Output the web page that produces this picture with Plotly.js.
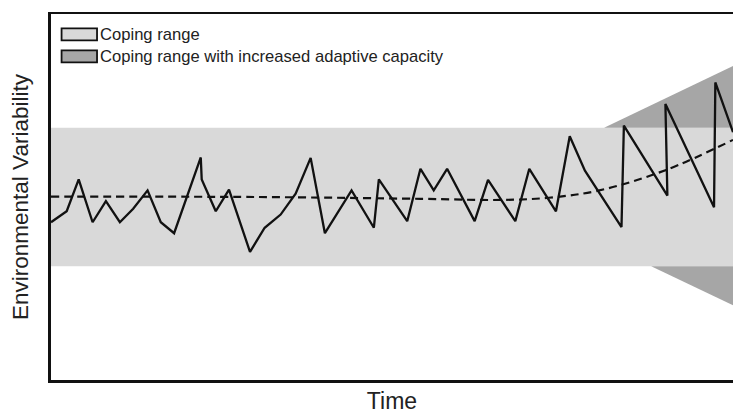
<!DOCTYPE html>
<html>
<head>
<meta charset="utf-8">
<script src="https://cdn.plot.ly/plotly-3.0.1.min.js"></script>
<style>
  html, body { margin: 0; padding: 0; background: #ffffff; }
  #chart { width: 733px; height: 414px; }
</style>
</head>
<body>
<div id="chart"></div>
<script>
// ---- data (time and variability in arbitrary units 0-100) ----
const timeSteps = [0, 2.3, 4.06, 6.1, 8.05, 10.1, 12.05, 14.16, 16.1, 18.05, 21.96, 22.1, 24.16, 26.1, 29.18, 31.33, 33.67, 35.87, 38.07, 40.16, 44.07, 47.34, 48.07, 52.23, 54.17, 56.12, 58.08, 62.12, 64.08, 68.08, 70.13, 74.04, 76.06, 78.29, 83.65, 84.0, 90.38, 90.09, 97.22, 97.41, 100];
const variability = [43.1, 46.1, 54.8, 43.1, 48.9, 43.1, 46.8, 51.8, 43.1, 40.1, 60.8, 54.8, 46.1, 52.0, 35.0, 41.6, 45.2, 50.9, 60.7, 40.1, 51.8, 41.6, 54.8, 43.4, 57.7, 51.8, 57.7, 43.4, 54.7, 43.4, 57.7, 46.1, 66.6, 57.2, 41.8, 69.5, 50.4, 75.4, 47.2, 81.3, 67.7];

const trendTime = [0, 30, 54.2, 66, 73, 80.4, 90.2, 100];
const trendLevel = [50.1, 50.0, 49.5, 49.2, 49.8, 51.8, 57.4, 65.6];

const copingRangeTime = [0, 100, 100, 0];
const copingRangeLevel = [31.1, 31.1, 68.9, 68.9];

const adaptiveUpperTime = [81.1, 100, 100];
const adaptiveUpperLevel = [68.9, 85.8, 68.9];
const adaptiveLowerTime = [88.0, 100, 100];
const adaptiveLowerLevel = [31.1, 20.4, 31.1];

const legendLabels = ["Coping range", "Coping range with increased adaptive capacity"];
const axisTitles = { x: "Time", y: "Environmental Variability" };

// ---- styles ----
const lightGrey = "#d9d9d9";
const darkGrey = "#a6a6a6";
const ink = "#111111";
const textColor = "#222222";
const fontFamily = "Liberation Sans, Arial, sans-serif";

const traces = [
  {
    x: copingRangeTime, y: copingRangeLevel, type: "scatter", mode: "lines",
    fill: "toself", fillcolor: lightGrey, line: { width: 0, color: lightGrey },
    hoverinfo: "skip", showlegend: false
  },
  {
    x: adaptiveUpperTime, y: adaptiveUpperLevel, type: "scatter", mode: "lines",
    fill: "toself", fillcolor: darkGrey, line: { width: 0, color: darkGrey },
    hoverinfo: "skip", showlegend: false
  },
  {
    x: adaptiveLowerTime, y: adaptiveLowerLevel, type: "scatter", mode: "lines",
    fill: "toself", fillcolor: darkGrey, line: { width: 0, color: darkGrey },
    hoverinfo: "skip", showlegend: false
  },
  {
    x: trendTime, y: trendLevel, type: "scatter", mode: "lines",
    line: { color: ink, width: 2.2, dash: "8px,5px", shape: "spline", smoothing: 1 },
    showlegend: false
  },
  {
    x: timeSteps, y: variability, type: "scatter", mode: "lines",
    line: { color: ink, width: 2.3 },
    showlegend: false
  }
];

// legend drawn as swatches + labels in the top-left corner of the plot
const swatchShapes = legendLabels.map((lab, i) => ({
  type: "rect", xref: "paper", yref: "paper",
  x0: 0.0155, x1: 0.0675,
  y0: 1 - (14.5 + 22 * i + 12) / 367, y1: 1 - (14.5 + 22 * i) / 367,
  fillcolor: i === 0 ? lightGrey : darkGrey,
  line: { color: ink, width: 1.8 }
}));
const legendTexts = legendLabels.map((lab, i) => ({
  text: lab, xref: "paper", yref: "paper",
  x: 0.0695, y: 1 - (20.5 + 22 * i) / 367,
  xanchor: "left", yanchor: "middle", showarrow: false,
  font: { family: fontFamily, size: 16.6, color: textColor }
}));

const layout = {
  width: 733, height: 414,
  margin: { l: 51, r: 0, t: 14, b: 34, pad: 0 },
  paper_bgcolor: "#ffffff", plot_bgcolor: "#ffffff",
  showlegend: false,
  font: { family: fontFamily, color: textColor },
  xaxis: {
    range: [0, 100], showgrid: false, zeroline: false, showticklabels: false, ticks: "",
    showline: true, mirror: true, linecolor: ink, linewidth: 2.5,
    title: { text: axisTitles.x, font: { size: 23, color: textColor }, standoff: 15 }
  },
  yaxis: {
    range: [0, 100], showgrid: false, zeroline: false, showticklabels: false, ticks: "",
    showline: true, mirror: false, linecolor: ink, linewidth: 3,
    title: { text: axisTitles.y, font: { size: 22.5, color: textColor }, standoff: 14 }
  },
  shapes: swatchShapes,
  annotations: legendTexts
};

Plotly.newPlot("chart", traces, layout, { staticPlot: true, displayModeBar: false });
</script>
</body>
</html>
